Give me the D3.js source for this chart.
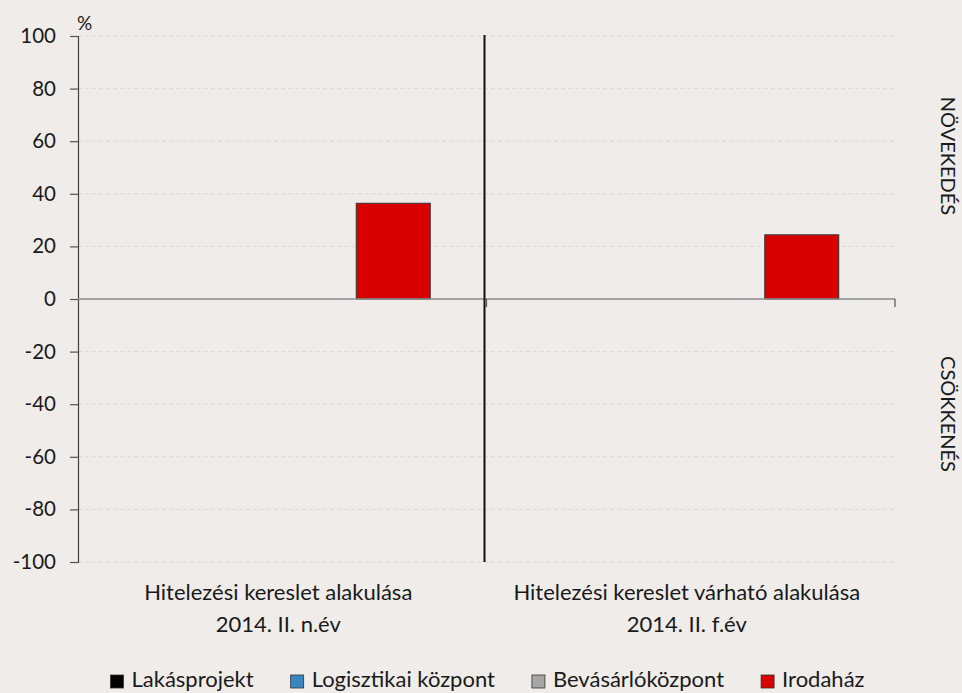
<!DOCTYPE html>
<html><head><meta charset="utf-8">
<script src="https://cdn.jsdelivr.net/npm/d3@7"></script>
<style>
html,body{margin:0;padding:0;background:#efece9;}
svg{display:block;}
text{font-family:Lato,"Open Sans",sans-serif;fill:#1a1a1a;}
</style></head>
<body>
<script>
const categories = [["Hitelezési kereslet alakulása","2014. II. n.év"],["Hitelezési kereslet várható alakulása","2014. II. f.év"]];
const seriesNames = ["Lakásprojekt","Logisztikai központ","Bevásárlóközpont","Irodaház"];
const seriesColors = ["#000000","#3a86c0","#a6a6a6","#d90000"];
const lakasprojekt = [0, 0];
const logisztikai = [0, 0];
const bevasarlo = [0, 0];
const irodahaz = [36.4, 24.4];
const yTicks = [100,80,60,40,20,0,-20,-40,-60,-80,-100];
const sideLabels = ["NÖVEKEDÉS","CSÖKKENÉS"];
const unitLabel = "%";

const seriesValues = [lakasprojekt, logisztikai, bevasarlo, irodahaz];

const W = 962, H = 693;
const svg = d3.select("body").append("svg").attr("width", W).attr("height", H);

const pL = 78, pR = 895, pT = 36, pB = 562;
const y = d3.scaleLinear().domain([-100, 100]).range([pB, pT]);
const x0 = d3.scaleBand().domain(d3.range(categories.length)).range([pL, pR]).padding(0);
const x1 = d3.scaleBand().domain(d3.range(seriesNames.length)).range([0, x0.bandwidth()]).paddingInner(0).paddingOuter(0.76);

// gridlines
svg.append("g").selectAll("line").data(yTicks.filter(d => d !== 0)).join("line")
  .attr("x1", pL).attr("x2", pR)
  .attr("y1", d => y(d)).attr("y2", d => y(d))
  .attr("stroke", "#d9d9d9").attr("stroke-width", 1).attr("stroke-dasharray", "4,3");

// y axis
const yAxis = d3.axisLeft(y).tickValues(yTicks).tickSize(8).tickPadding(14).tickFormat(d => String(d));
const gy = svg.append("g").attr("transform", `translate(${pL},0)`).call(yAxis);
gy.select(".domain").attr("stroke", "#404040").attr("stroke-width", 1.2);
gy.selectAll(".tick line").attr("stroke", "#555").attr("stroke-width", 1.2);
gy.selectAll(".tick text").style("font-family", "Lato, 'Open Sans', sans-serif").style("font-size", "20.5px").attr("fill", "#1a1a1a");

// bars
const groups = svg.append("g").selectAll("g").data(categories.map((c, i) => i)).join("g")
  .attr("transform", i => `translate(${x0(i)},0)`);
groups.selectAll("rect").data(i => seriesValues.map((s, k) => ({k, v: s[i]}))).join("rect")
  .attr("x", d => x1(d.k)).attr("width", x1.bandwidth())
  .attr("y", d => y(Math.max(0, d.v))).attr("height", d => Math.abs(y(d.v) - y(0)))
  .attr("fill", d => seriesColors[d.k])
  .attr("stroke", d => d.v !== 0 ? "#333" : "none").attr("stroke-width", 1);

// zero axis with category-boundary ticks
const zeroY = y(0);
svg.append("line").attr("x1", pL).attr("x2", pR).attr("y1", zeroY).attr("y2", zeroY)
  .attr("stroke", "#8c8c8c").attr("stroke-width", 1.6);
const boundaries = d3.range(categories.length + 1).map(i => i < categories.length ? x0(i) : pR);
svg.append("g").selectAll("line").data(boundaries.slice(1)).join("line")
  .attr("x1", d => d).attr("x2", d => d).attr("y1", zeroY).attr("y2", zeroY + 8)
  .attr("stroke", "#555").attr("stroke-width", 1.2);

// divider
const divX = x0(1) - 2;
svg.append("line").attr("x1", divX).attr("x2", divX).attr("y1", pT - 1).attr("y2", pB)
  .attr("stroke", "#111").attr("stroke-width", 2);

// category labels
const catG = svg.append("g").selectAll("text").data(categories).join("text")
  .attr("text-anchor", "middle").style("font-size", "22px")
  .attr("x", (d, i) => x0(i) + x0.bandwidth() / 2 - 4);
catG.selectAll("tspan").data(d => d).join("tspan")
  .attr("x", function() { return this.parentNode.getAttribute("x"); })
  .attr("y", (d, j) => 600 + j * 32).text(d => d);

// unit label
svg.append("text").attr("x", 77).attr("y", 30).style("font-size", "19px").text(unitLabel);

// side labels
const sidePos = [156, 414];
svg.append("g").selectAll("text").data(sideLabels).join("text")
  .attr("text-anchor", "middle").style("font-size", "20px")
  .attr("transform", (d, i) => `translate(941,${sidePos[i]}) rotate(90)`)
  .text(d => d);

// legend
const leg = svg.append("g");
const items = leg.selectAll("g").data(seriesNames).join("g");
items.append("rect").attr("width", 13).attr("height", 13).attr("y", 675)
  .attr("fill", (d, i) => seriesColors[i]).attr("stroke", "#333").attr("stroke-width", 0.8);
items.append("text").attr("x", 21).attr("y", 687).style("font-size", "22px").text(d => d);
let cx = 0; const pos = [];
items.each(function(d, i) {
  const w = d3.select(this).select("text").node().getComputedTextLength();
  pos.push(cx); cx += 21 + w + 37;
});
const total = cx - 37;
const startX = 487.5 - total / 2;
items.attr("transform", (d, i) => `translate(${startX + pos[i]},0)`);
</script>
</body></html>
